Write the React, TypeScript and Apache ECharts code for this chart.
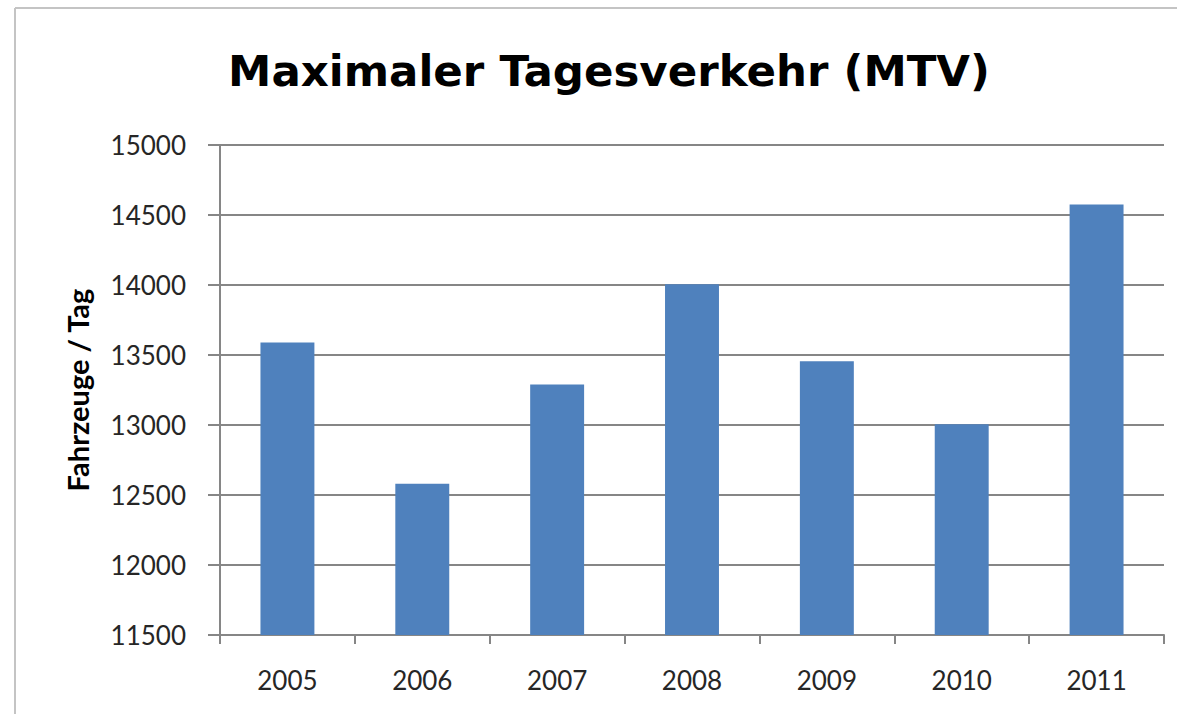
import React, { useEffect, useRef } from "react";
import * as echarts from "echarts";

const titleText = "Maximaler Tagesverkehr (MTV)";
const yAxisName = "Fahrzeuge / Tag";
const years = ["2005", "2006", "2007", "2008", "2009", "2010", "2011"];
const mtvValues = [13590, 12580, 13290, 14005, 13455, 13005, 14575];
const yMin = 11500;
const yMax = 15000;
const yStep = 500;

export default function App() {
  const ref = useRef<HTMLDivElement>(null);
  useEffect(() => {
    if (!ref.current) return;
    const chart = echarts.init(ref.current, null, { renderer: "svg" });
    chart.setOption({
      animation: false,
      backgroundColor: "#ffffff",
      title: {
        text: titleText,
        left: 604,
        top: 44,
        textAlign: "center",
        textStyle: {
          fontFamily: "DejaVu Sans",
          fontWeight: "bold",
          fontSize: 43.5,
          color: "#000000",
        },
      },
      graphic: [
        {
          type: "line",
          shape: { x1: 15, y1: 8, x2: 1177, y2: 8 },
          style: { stroke: "#c4c4c4", lineWidth: 2 },
        },
        {
          type: "line",
          shape: { x1: 15, y1: 8, x2: 15, y2: 714 },
          style: { stroke: "#c4c4c4", lineWidth: 2 },
        },
      ],
      grid: { left: 220, right: 13, top: 145, bottom: 79 },
      xAxis: {
        type: "category",
        data: years,
        boundaryGap: true,
        axisLine: { lineStyle: { color: "#868686", width: 2 } },
        axisTick: { show: true, length: 9, alignWithLabel: false, lineStyle: { color: "#868686", width: 2 } },
        axisLabel: {
          fontFamily: "Lato",
          fontSize: 26,
          color: "#262626",
          margin: 32,
        },
      },
      yAxis: {
        type: "value",
        min: yMin,
        max: yMax,
        interval: yStep,
        name: yAxisName,
        nameLocation: "middle",
        nameGap: 128,
        nameTextStyle: {
          fontFamily: "Lato",
          fontWeight: "bold",
          fontSize: 29,
          color: "#000000",
        },
        axisLine: { show: true, lineStyle: { color: "#868686", width: 2 } },
        axisTick: { show: true, length: 12, lineStyle: { color: "#868686", width: 2 } },
        splitLine: { show: true, lineStyle: { color: "#868686", width: 2 } },
        axisLabel: {
          fontFamily: "Lato",
          fontSize: 26,
          color: "#262626",
          margin: 34,
          formatter: (v: number) => String(v),
        },
      },
      series: [
        {
          type: "bar",
          data: mtvValues,
          barWidth: "40%",
          itemStyle: { color: "#4F81BD" },
        },
      ],
    });
    return () => chart.dispose();
  }, []);
  return (
    <div
      ref={ref}
      style={{ position: "absolute", left: 0, top: 0, width: 1177, height: 714 }}
    />
  );
}
